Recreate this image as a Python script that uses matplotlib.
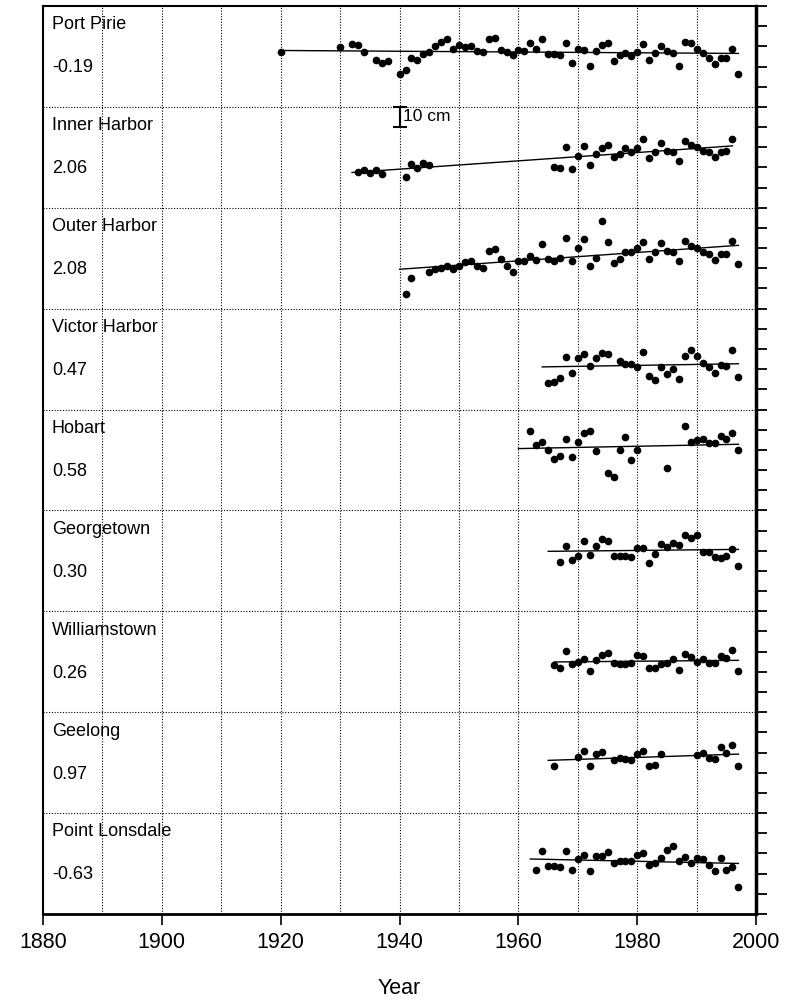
import numpy as np
import matplotlib
matplotlib.use("Agg")
import matplotlib.pyplot as plt

plt.rcParams['font.family'] = ['Liberation Sans', 'DejaVu Sans']

# station names, trends (mm/yr) and start year of the fitted line
stations = ['Port Pirie', 'Inner Harbor', 'Outer Harbor', 'Victor Harbor', 'Hobart',
            'Georgetown', 'Williamstown', 'Geelong', 'Point Lonsdale']
trends = [-0.19, 2.06, 2.08, 0.47, 0.58, 0.30, 0.26, 0.97, -0.63]
fit_start = [1920, 1932, 1940, 1964, 1960, 1965, 1966, 1965, 1962]

# annual mean sea level anomalies (cm), relative to panel centre
pp_yr = [1920, 1930, 1932, 1933, 1934, 1936, 1937, 1938] + list(range(1940, 1998))
pp_cm = [2.1, 4.5, 6.2, 5.5, 2.4, -1.9, -3.2, -2.4,
         -8.5, -6.7, -0.9, -1.6, 1.2, 2.2, 5.4, 7.2, 8.8, 3.7,
         5.5, 4.9, 5.2, 2.7, 2.4, 8.5, 9.0, 3.4, 2.1, 0.7,
         3.1, 2.9, 6.7, 3.6, 8.8, 1.1, 1.1, 0.7, 6.7, -3.1,
         3.7, 3.1, -4.9, 2.9, 5.9, 6.7, -2.4, 0.7, 1.6, 0.3,
         2.2, 6.4, -1.6, 1.6, 5.4, 2.6, 1.6, -4.9, 7.3, 6.5,
         3.7, 1.6, -0.6, -3.6, -0.7, -0.7, 3.9, -8.5]

ih_yr = [1933, 1934, 1935, 1936, 1937, 1941, 1942, 1943, 1944, 1945] + list(range(1966, 1997))
ih_cm = [-7.2, -6.3, -8.0, -6.5, -8.3, -9.8, -3.4, -5.3, -2.7, -3.7,
         -4.7, -5.2, 5.0, -6.0, 0.8, 5.4, -3.7, 1.7, 4.4, 6.2,
         0.1, 1.7, 4.4, 2.7, 4.7, 9.0, -0.1, 2.7, 7.0, 3.2,
         2.7, -1.7, 8.3, 6.0, 5.0, 3.2, 2.4, 0.4, 2.7, 3.1, 9.2]

oh_yr = [1941, 1942] + list(range(1945, 1998))
oh_cm = [-17.6, -9.8,
         -7.0, -5.5, -4.7, -3.9, -5.5, -3.7, -2.0, -1.4, -3.7, -4.9,
         3.6, 4.7, -0.4, -3.9, -7.0, -1.2, -1.4, 1.1, -0.7, 6.9,
         -0.4, -1.4, 0.1, 10.0, -1.6, 5.2, 9.5, -3.9, 0.1, 18.3,
         7.9, -2.2, -0.2, 2.9, 3.2, 4.9, 8.0, -0.2, 3.1, 7.5,
         3.6, 3.1, -1.6, 8.7, 5.9, 4.9, 3.2, 1.9, -1.1, 2.1,
         1.9, 8.7, -3.0]

vh_yr = list(range(1965, 1976)) + list(range(1977, 1998))
vh_cm = [-11.8, -11.3, -9.3, 0.8, -7.0, 0.4, 2.4, -3.4, 0.3, 3.1, 2.7,
         -0.9, -2.2, -2.2, -3.7, 3.4, -8.3, -10.3, -3.7, -7.3, -4.7,
         -9.8, 1.4, 4.4, 1.7, -1.9, -3.7, -6.7, -2.7, -3.4, 4.7, -9.1]

hb_yr = list(range(1962, 1974)) + [1975, 1976, 1977, 1978, 1979, 1980, 1985] + list(range(1988, 1998))
hb_cm = [14.6, 7.5, 8.7, 4.7, 0.6, 2.1, 10.5, 1.4, 8.7, 13.3, 14.3, 4.4,
         -6.3, -8.5, 4.7, 11.2, 0.1, 4.7, -3.9,
         16.8, 8.7, 9.8, 10.3, 8.3, 8.3, 11.7, 10.2, 13.5, 4.7]

gt_yr = list(range(1967, 1998))
gt_cm = [-0.4, 7.4, 0.6, 2.4, 9.8, 3.1, 7.2, 11.0, 9.8, 2.4,
         2.6, 2.4, 2.1, 6.4, 6.4, -1.2, 3.6, 8.2, 6.7, 8.7,
         7.9, 13.0, 11.5, 13.0, 4.2, 4.2, 1.7, 1.4, 2.4, 6.0, -2.7]

wt_yr = list(range(1966, 1998))
wt_cm = [-1.7, -2.9, 5.5, -0.9, 0.1, 1.3, -4.4, 0.9, 3.2, 4.1,
         -0.6, -0.9, -0.9, -0.6, 3.2, 2.6, -2.9, -3.2, -0.9, -0.4,
         1.3, -4.2, 3.6, 2.1, 0.1, 1.3, -0.6, -0.6, 2.6, 1.6, 5.7, -4.5]

gl_yr = [1966, 1970, 1971, 1972, 1973, 1974] + list(range(1976, 1985)) + list(range(1990, 1998))
gl_cm = [-1.9, 2.6, 5.7, -1.6, 4.4, 5.2,
         1.3, 2.1, 1.9, 1.4, 4.4, 5.7, -1.6, -1.4, 4.1,
         3.7, 4.6, 2.4, 1.9, 7.5, 4.9, 8.7, -1.9]

pl_yr = list(range(1963, 1998))
pl_cm = [-3.1, 6.3, -1.2, -1.2, -1.8, 6.3, -3.1, 2.1, 4.0, -3.6,
         3.6, 3.6, 5.6, 0.3, 1.0, 1.0, 1.0, 4.0, 5.3, -0.8,
         0.0, 2.6, 6.9, 8.7, 1.0, 3.0, 0.3, 2.6, 2.0, -0.8,
         -3.8, 2.6, -3.0, -1.8, -11.7]

years = [pp_yr, ih_yr, oh_yr, vh_yr, hb_yr, gt_yr, wt_yr, gl_yr, pl_yr]
levels = [pp_cm, ih_cm, oh_cm, vh_cm, hb_cm, gt_cm, wt_cm, gl_cm, pl_cm]

npan = len(stations)
span = 50.0  # cm per panel

fig = plt.figure(figsize=(8.05, 10.01), dpi=100)
ax = fig.add_axes([0.0534, 0.087, 0.886, 0.907])

for i in range(npan):
    top = span * (npan - i)
    mid = top - span / 2
    x = np.array(years[i], float)
    y = np.array(levels[i], float)
    slope = trends[i] / 10.0
    b = np.mean(y - slope * x)
    xl = np.array([fit_start[i], x.max()])
    ax.plot(xl, mid + b + slope * xl, color='k', lw=1.0, zorder=2)
    ax.plot(x, mid + y, 'o', color='k', ms=4.5, mec='k', zorder=3)
    ax.text(1881.5, top - 9.4, stations[i], fontsize=13, va='center', ha='left')
    ax.text(1881.5, top - 30.7, '%.2f' % trends[i], fontsize=13, va='center', ha='left')
    if i > 0:
        ax.axhline(top, color='k', ls=(0, (1, 1.5)), lw=0.8, zorder=1)

for yr in range(1890, 2000, 10):
    ax.axvline(yr, color='k', ls=(0, (1, 1.5)), lw=0.8, zorder=1)

# 10 cm scale bar
sb_top = span * (npan - 1)
ax.errorbar([1940], [sb_top - 5], yerr=[[5], [5]], fmt='none', ecolor='k',
            elinewidth=1.5, capsize=5, capthick=1.5)
ax.text(1940.6, sb_top - 5, '10 cm', fontsize=12.5, va='center', ha='left')

ax.set_xlim(1880, 2000)
ax.set_ylim(0, span * npan)
ax.set_xticks(range(1880, 2001, 20))
ax.tick_params(axis='x', direction='out', length=8, width=1.2, labelsize=15.5, pad=5)
ax.yaxis.tick_right()
ax.set_yticks(np.arange(0, span * npan + 1, 10))
ax.tick_params(axis='y', direction='out', length=8, width=1.3, labelright=False)
ax.set_xlabel('Year', fontsize=15.5, labelpad=18)

ax.spines['right'].set_linewidth(2.5)
ax.spines['bottom'].set_linewidth(2.0)
ax.spines['left'].set_linewidth(1.5)
ax.spines['top'].set_linewidth(1.5)

fig.savefig('out.png', dpi=100)
